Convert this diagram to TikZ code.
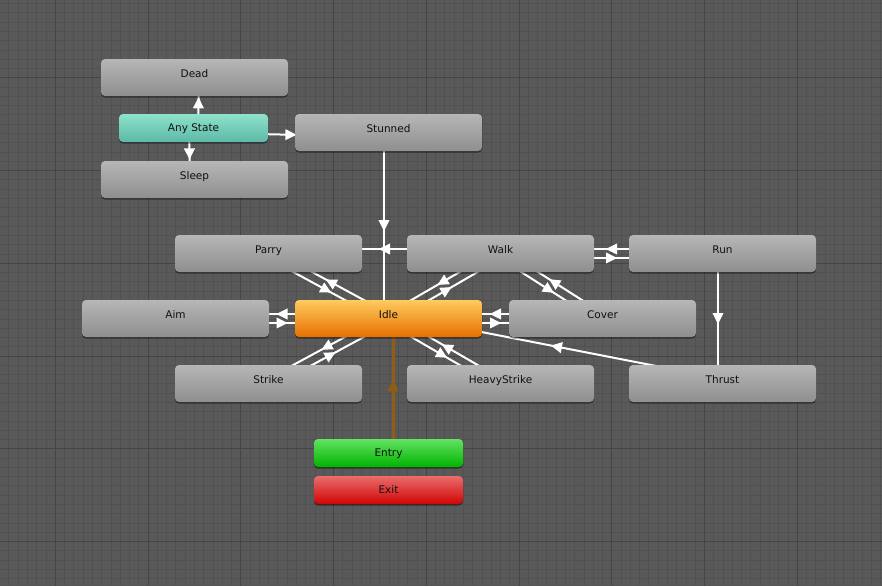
\documentclass[tikz,border=0pt]{standalone}
\usepackage{fontspec}
\setmainfont{DejaVu Sans}
\usetikzlibrary{calc,decorations.markings,shadows}
\definecolor{bgc}{HTML}{595959}
\definecolor{minorc}{HTML}{515151}
\definecolor{majorc}{HTML}{454545}
\definecolor{stTop}{HTML}{B6B6B6}
\definecolor{stBot}{HTML}{8F8F8F}
\definecolor{anyTop}{HTML}{8EE3CC}
\definecolor{anyBot}{HTML}{5CB8A5}
\definecolor{idleTop}{HTML}{FFCA5E}
\definecolor{idleBot}{HTML}{E67000}
\definecolor{entTop}{HTML}{62E262}
\definecolor{entBot}{HTML}{00B400}
\definecolor{exTop}{HTML}{EA6C6C}
\definecolor{exBot}{HTML}{D00404}
\definecolor{entryLine}{HTML}{8F5E12}
\definecolor{txt}{HTML}{101010}
\pgfdeclarelayer{gridlayer}
\pgfdeclarelayer{edgelayer}
\pgfsetlayers{gridlayer,edgelayer,main}
\tikzset{
  statebox/.style={rounded corners=4pt, minimum width=187pt, minimum height=37pt,
    inner sep=0pt, top color=stTop, bottom color=stBot, text=txt,
    font=\fontsize{10.5}{12}\selectfont, text height=4pt, text depth=4.7pt,
    drop shadow={shadow xshift=0pt, shadow yshift=-1.5pt, opacity=0.45, fill=black}},
  smallbox/.style={statebox, minimum width=149pt, minimum height=28pt,
    text height=7.4pt, text depth=0pt},
  trans/.style={draw=#1, line width=2pt, postaction={decorate,
    decoration={markings, mark=at position 0.5 with
      {\fill[#1] (-5.5pt,-5.6pt) -- (5.5pt,0pt) -- (-5.5pt,5.6pt) -- cycle;}}}},
  trans/.default=white,
}
\newcommand{\tr}[3][white]{\draw[trans=#1] ($(#2.center)!4.5pt!-90:(#3.center)$) -- ($(#3.center)!4.5pt!90:(#2.center)$);}
\begin{document}
\begin{tikzpicture}[x=1pt,y=-1pt]
\useasboundingbox (0,0) rectangle (882,586);
\begin{pgfonlayer}{gridlayer}
\fill[bgc] (0,0) rectangle (882,586);
\foreach \i in {-6,...,90} {
  \draw[minorc, line width=0.9pt] ({55.3+\i*9.275},0) -- ({55.3+\i*9.275},586);
}
\foreach \i in {-9,...,55} {
  \draw[minorc, line width=0.9pt] (0,{77.8+\i*9.275}) -- (882,{77.8+\i*9.275});
}
\foreach \i in {0,...,9} {
  \draw[majorc, line width=1.1pt] ({55.3+\i*92.75},0) -- ({55.3+\i*92.75},586);
}
\foreach \i in {0,...,5} {
  \draw[majorc, line width=1.1pt] (0,{77.8+\i*92.75}) -- (882,{77.8+\i*92.75});
}
\end{pgfonlayer}

\node[statebox] (dead) at (194.5,77.5) {Dead};
\node[smallbox, top color=anyTop, bottom color=anyBot] (any) at (193.5,128) {Any State};
\node[statebox] (stunned) at (388.5,132.5) {Stunned};
\node[statebox] (sleep) at (194.5,179.5) {Sleep};
\node[statebox] (parry) at (268.5,253.5) {Parry};
\node[statebox] (walk) at (500.5,253.5) {Walk};
\node[statebox] (run) at (722.5,253.5) {Run};
\node[statebox] (aim) at (175.5,318.5) {Aim};
\node[statebox, top color=idleTop, bottom color=idleBot] (idle) at (388.5,318.5) {Idle};
\node[statebox] (cover) at (602.5,318.5) {Cover};
\node[statebox] (strike) at (268.5,383.5) {Strike};
\node[statebox] (heavy) at (500.5,383.5) {HeavyStrike};
\node[statebox] (thrust) at (722.5,383.5) {Thrust};
\node[smallbox, top color=entTop, bottom color=entBot] (entry) at (388.5,453) {Entry};
\node[smallbox, top color=exTop, bottom color=exBot] (exit) at (388.5,490) {Exit};

\begin{pgfonlayer}{edgelayer}
\tr{any}{dead}
\tr{any}{sleep}
\tr{any}{stunned}
\tr{stunned}{idle}
\tr{walk}{parry}
\tr{parry}{idle}
\tr{idle}{parry}
\tr{walk}{idle}
\tr{idle}{walk}
\tr{aim}{idle}
\tr{idle}{aim}
\tr{cover}{idle}
\tr{idle}{cover}
\tr{strike}{idle}
\tr{idle}{strike}
\tr{heavy}{idle}
\tr{idle}{heavy}
\tr{walk}{run}
\tr{run}{walk}
\tr{walk}{cover}
\tr{cover}{walk}
\tr{run}{thrust}
\tr{thrust}{idle}
\draw[trans=entryLine, line width=3pt] ($(entry.center)!4.5pt!-90:(idle.center)$) -- ($(idle.center)!4.5pt!90:(entry.center)$);
\end{pgfonlayer}
\end{tikzpicture}
\end{document}
